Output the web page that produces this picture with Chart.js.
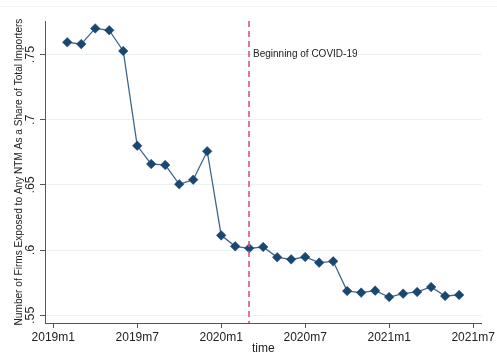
<!DOCTYPE html>
<html>
<head>
<meta charset="utf-8">
<script src="https://cdn.jsdelivr.net/npm/chart.js@4"></script>
<style>
  html, body { margin: 0; padding: 0; background: #fff; }
  #wrap { width: 497px; height: 356px; position: relative; }
</style>
</head>
<body>
<div id="wrap"><canvas id="ntmChart"></canvas></div>
<script>
// months counted from 2019m1 = 0
const months = [1, 2, 3, 4, 5, 6, 7, 8, 9, 10, 11, 12, 13, 14, 15, 16, 17, 18, 19, 20, 21, 22, 23, 24, 25, 26, 27, 28, 29];
const shareExposed = [0.7594, 0.758, 0.770, 0.7686, 0.7527, 0.680, 0.666, 0.6653, 0.6505, 0.654, 0.6758,
  0.6113, 0.6029, 0.6014, 0.6024, 0.5945, 0.5929, 0.5947, 0.5904, 0.5914,
  0.5686, 0.5674, 0.5689, 0.564, 0.5666, 0.5679, 0.5717, 0.5648, 0.5656];
const xTickValues = [0, 6, 12, 18, 24, 30];
const xTickLabels = ['2019m1', '2019m7', '2020m1', '2020m7', '2021m1', '2021m7'];
const yTickValues = [0.55, 0.6, 0.65, 0.7, 0.75];
const yTickLabels = ['.55', '.6', '.65', '.7', '.75'];
const covidMonth = 14;
const covidLabel = 'Beginning of COVID-19';
const covidLabelAt = 0.75;

const colorNavy = '#1a476f';
const colorLine = '#3d6590';
const colorRed = '#d6577c';
const colorGrid = '#eaf2f3';
const colorAxis = '#555555';
const fontFamily = "'Liberation Sans', Arial, sans-serif";

const decorPlugin = {
  id: 'decor',
  beforeDraw(chart) {
    const ctx = chart.ctx;
    ctx.save();
    ctx.strokeStyle = '#f1f5f5';
    ctx.lineWidth = 1;
    ctx.beginPath();
    ctx.moveTo(0, 6.5);
    ctx.lineTo(chart.width, 6.5);
    ctx.stroke();
    ctx.restore();
  },
  afterDraw(chart) {
    const ctx = chart.ctx;
    const x = chart.scales.x;
    const y = chart.scales.y;
    const area = chart.chartArea;
    ctx.save();
    // rotated y tick labels
    ctx.fillStyle = '#222';
    ctx.font = '12.5px ' + fontFamily;
    ctx.textAlign = 'center';
    ctx.textBaseline = 'middle';
    yTickValues.forEach((v, i) => {
      ctx.save();
      ctx.translate(area.left - 14, y.getPixelForValue(v));
      ctx.rotate(-Math.PI / 2);
      ctx.fillText(yTickLabels[i], 0, 0);
      ctx.restore();
    });
    // covid line
    const px = Math.round(x.getPixelForValue(covidMonth));
    ctx.strokeStyle = colorRed;
    ctx.lineWidth = 1.6;
    ctx.setLineDash([6, 4]);
    ctx.beginPath();
    ctx.moveTo(px, area.top);
    ctx.lineTo(px, area.bottom);
    ctx.stroke();
    ctx.setLineDash([]);
    ctx.fillStyle = '#222';
    ctx.font = '10px ' + fontFamily;
    ctx.textAlign = 'left';
    ctx.fillText(covidLabel, px + 4, y.getPixelForValue(covidLabelAt));
    ctx.restore();
  }
};

new Chart(document.getElementById('ntmChart'), {
  type: 'line',
  data: {
    datasets: [{
      data: months.map((m, i) => ({ x: m, y: shareExposed[i] })),
      borderColor: colorLine,
      borderWidth: 1.3,
      tension: 0,
      pointStyle: 'rectRot',
      pointRadius: 4.8,
      pointBackgroundColor: colorNavy,
      pointBorderColor: colorNavy,
      pointBorderWidth: 0.5
    }]
  },
  options: {
    responsive: true,
    maintainAspectRatio: false,
    animation: false,
    layout: { padding: { top: 21, right: 10, left: 13, bottom: 0 } },
    plugins: { legend: { display: false }, tooltip: { enabled: false } },
    scales: {
      x: {
        type: 'linear',
        min: -0.59,
        max: 30.6,
        afterBuildTicks: (s) => { s.ticks = xTickValues.map(v => ({ value: v })); },
        afterFit: (s) => { s.height = 33; },
        ticks: {
          autoSkip: false,
          maxRotation: 0,
          padding: 2,
          color: '#222',
          font: { family: fontFamily, size: 12 },
          callback: (v) => xTickLabels[xTickValues.indexOf(v)]
        },
        grid: { drawOnChartArea: false, tickLength: 5, tickColor: colorAxis },
        border: { color: colorAxis, width: 1 },
        title: {
          display: true,
          text: 'time',
          color: '#222',
          padding: { top: -3, bottom: 0 },
          font: { family: fontFamily, size: 12 }
        }
      },
      y: {
        min: 0.5441,
        max: 0.7757,
        afterBuildTicks: (s) => { s.ticks = yTickValues.map(v => ({ value: v })); },
        afterFit: (s) => { s.width = 32; },
        ticks: { display: false },
        grid: { color: colorGrid, lineWidth: 1, tickLength: 5, tickColor: colorAxis },
        border: { color: colorAxis, width: 1 },
        title: {
          display: true,
          text: 'Number of Firms Exposed to Any NTM As a Share of Total Importers',
          color: '#222',
          padding: { top: 0, bottom: 0 },
          font: { family: fontFamily, size: 10.1 }
        }
      }
    }
  },
  plugins: [decorPlugin]
});
</script>
</body>
</html>
